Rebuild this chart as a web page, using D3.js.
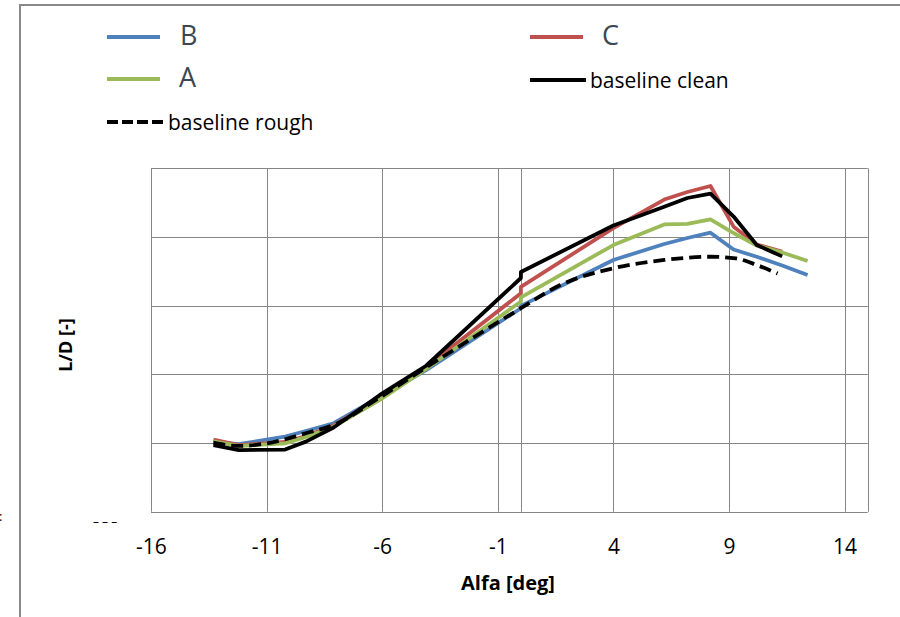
<!DOCTYPE html>
<html>
<head>
<meta charset="utf-8">
<script src="https://cdn.jsdelivr.net/npm/d3@7"></script>
<style>
  body { margin: 0; background: #fff; }
  svg { display: block; font-family: "Open Sans", "Noto Sans", "Liberation Sans", sans-serif; }
</style>
</head>
<body>
<div id="chart"></div>
<script>
// angle of attack for the four solid series (two readings at 0)
var alpha = [-13.3, -12.2, -10.2, -9.3, -8.1, -6.1, -4.1, 0, 0, 4, 6.2, 7.2, 8.2, 9.2, 10.2, 11.3, 12.4];
var seriesB = [-19.5, -20.6, -16.3, -13, -8.5, 6.8, 22.5, 58.5, 59.9, 86.6, 95.9, 99.4, 102.5, 92.7, 88.5, 83.4, 77.9];
var seriesC = [-18, -21.2, -19.4, -15.9, -9.8, 6.2, 24.3, 67.2, 70.9, 105.2, 121.8, 126.2, 129.7, 106, 95.6, 91.5, null];
var seriesA = [-19.1, -21.7, -20.2, -16.5, -10.5, 5.1, 23.1, 62.4, 64.8, 95.3, 107.3, 107.6, 110.2, 102.3, 95, 91, 86];
var clean = [-21.2, -24.1, -23.8, -19.2, -11, 8, 25, 76.1, 79.6, 106.7, 117.6, 122.7, 125.3, 111.9, 95.3, 88.7, null];

var alphaRough = [-13.3, -12.2, -11, -10.2, -9.3, -8.1, -6.1, -4.1, 0, 1.7, 4, 6.2, 7.2, 8.2, 9.3, 10.2, 11.1];
var rough = [-19.8, -21.7, -20.2, -17.8, -14.3, -9.5, 6.6, 24, 58.5, 72, 81.8, 86.6, 87.9, 88.5, 87.5, 83.7, 78.7];

var xTicks = [-16, -11, -6, -1, 4, 9, 14];
var yTicks = [-60, -20, 20, 60, 100, 140];

var W = 900, H = 617;
var m = { left: 151, top: 168.3, right: 867.7, bottom: 511.7 };

var svg = d3.select('#chart').append('svg')
  .attr('width', W)
  .attr('height', H);

// chart area frame (only left and top edges are in view)
svg.append('line')
  .attr('x1', 20).attr('x2', 20).attr('y1', 4).attr('y2', H)
  .attr('stroke', '#898989').attr('stroke-width', 2);
svg.append('line')
  .attr('x1', 19).attr('x2', W).attr('y1', 5).attr('y2', 5)
  .attr('stroke', '#898989').attr('stroke-width', 2);

var x = d3.scaleLinear().domain([-16, 15]).range([m.left, m.right]);
var y = d3.scaleLinear().domain([-60, 140]).range([m.bottom, m.top]);

var grid = svg.append('g');
grid.selectAll('.hgrid')
  .data(yTicks)
  .enter().append('line')
  .attr('x1', m.left).attr('x2', m.right)
  .attr('y1', function(d) { return Math.round(y(d)) + 0.5; })
  .attr('y2', function(d) { return Math.round(y(d)) + 0.5; })
  .attr('stroke', '#868686');
grid.selectAll('.vgrid')
  .data(xTicks.concat([0]))
  .enter().append('line')
  .attr('y1', m.top).attr('y2', m.bottom)
  .attr('x1', function(d) { return Math.round(x(d)) + 0.5; })
  .attr('x2', function(d) { return Math.round(x(d)) + 0.5; })
  .attr('stroke', '#868686');
grid.append('line')
  .attr('x1', Math.round(m.right) + 0.5).attr('x2', Math.round(m.right) + 0.5)
  .attr('y1', m.top).attr('y2', m.bottom)
  .attr('stroke', '#868686');

// x axis labels
var xAxis = d3.axisBottom(x).tickValues(xTicks).tickSize(0);
var gx = svg.append('g')
  .attr('transform', 'translate(0,' + m.bottom + ')')
  .call(xAxis);
gx.select('.domain').remove();
gx.selectAll('text')
  .attr('y', 42)
  .attr('dy', 0)
  .attr('font-size', 21)
  .attr('font-family', '"Open Sans", sans-serif')
  .attr('fill', '#000')
  .text(function(d) { return d < 0 ? '-' + Math.abs(d) : d; });

svg.append('text')
  .attr('x', 508).attr('y', 590)
  .attr('text-anchor', 'middle')
  .attr('font-size', 20).attr('font-weight', 'bold')
  .text('Alfa [deg]');

svg.append('text')
  .attr('transform', 'translate(72,345) rotate(-90)')
  .attr('text-anchor', 'middle')
  .attr('font-size', 18).attr('font-weight', 'bold')
  .text('L/D [-]');

// clipped leftovers of the hidden value axis
svg.append('text').attr('x', 93).attr('y', 526)
  .attr('font-size', 12).attr('fill', '#000').text('– – –');
svg.append('text').attr('x', -1).attr('y', 521)
  .attr('font-size', 13).attr('fill', '#000').text(':');

var series = [
  { name: 'B', xs: alpha, ys: seriesB, color: '#4f81bd', dash: null },
  { name: 'C', xs: alpha, ys: seriesC, color: '#c0504d', dash: null },
  { name: 'A', xs: alpha, ys: seriesA, color: '#9bbb59', dash: null },
  { name: 'baseline clean', xs: alpha, ys: clean, color: '#000', dash: null },
  { name: 'baseline rough', xs: alphaRough, ys: rough, color: '#000', dash: '12,6' }
];

var line = d3.line()
  .defined(function(d) { return d[1] != null; })
  .x(function(d) { return x(d[0]); })
  .y(function(d) { return y(d[1]); });

series.forEach(function(s) {
  var pts = s.xs.map(function(a, i) { return [a, s.ys[i]]; });
  svg.append('path')
    .attr('d', s.dash ? line.curve(d3.curveMonotoneX)(pts) : line.curve(d3.curveLinear)(pts))
    .attr('fill', 'none')
    .attr('stroke', s.color)
    .attr('stroke-width', 3.8)
    .attr('stroke-linejoin', 'round')
    .attr('stroke-dasharray', s.dash);
});

// legend
var legend = [
  { name: 'B', color: '#4f81bd', x1: 107, x2: 160, y: 37, tx: 180, big: true, dash: null },
  { name: 'C', color: '#c0504d', x1: 530, x2: 583, y: 37, tx: 602, big: true, dash: null },
  { name: 'A', color: '#9bbb59', x1: 107, x2: 160, y: 79, tx: 179, big: true, dash: null },
  { name: 'baseline clean', color: '#000', x1: 530, x2: 586, y: 80, tx: 590, big: false, dash: null },
  { name: 'baseline rough', color: '#000', x1: 107, x2: 163, y: 122, tx: 168, big: false, dash: '11,4' }
];
var lg = svg.selectAll('.legend')
  .data(legend)
  .enter().append('g')
  .attr('class', 'legend');
lg.append('line')
  .attr('x1', function(d) { return d.x1; })
  .attr('x2', function(d) { return d.x2; })
  .attr('y1', function(d) { return d.y; })
  .attr('y2', function(d) { return d.y; })
  .attr('stroke', function(d) { return d.color; })
  .attr('stroke-width', 3.8)
  .attr('stroke-dasharray', function(d) { return d.dash; });
lg.append('text')
  .attr('x', function(d) { return d.tx; })
  .attr('y', function(d) { return d.y; })
  .attr('dy', function(d) { return d.big ? '.3em' : '.4em'; })
  .attr('font-size', function(d) { return d.big ? 27 : 21; })
  .attr('fill', function(d) { return d.big ? '#3d4752' : '#000'; })
  .text(function(d) { return d.name; });
</script>
</body>
</html>
